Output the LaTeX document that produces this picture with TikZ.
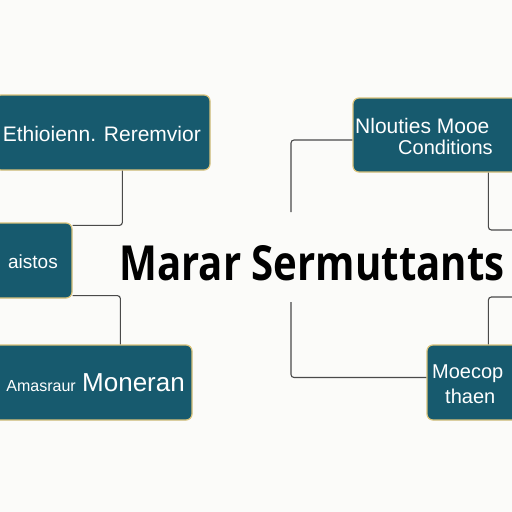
\documentclass[tikz,border=0pt]{standalone}
\usepackage{fontspec}
\setmainfont{Liberation Sans}
\newfontfamily\titlefont{Open Sans}
\usetikzlibrary{calc}
\definecolor{boxfill}{HTML}{175A6E}
\definecolor{boxedge}{HTML}{D8C27A}
\definecolor{wire}{HTML}{4A4A4A}
\definecolor{bg}{HTML}{FBFBF9}
\begin{document}
\begin{tikzpicture}[x=1pt,y=-1pt,
  box/.style={draw=boxedge,line width=1.2pt,fill=boxfill,rounded corners=6pt,inner sep=0pt},
  lbl/.style={text=white,inner sep=0pt,font=\fontsize{19}{21}\selectfont},
  wirestyle/.style={draw=wire,line width=1.1pt,rounded corners=3pt}]
\clip (0,0) rectangle (512,512);
\fill[bg] (0,0) rectangle (512,512);
% boxes
\node[box,minimum width=215pt,minimum height=75pt] (b1) at (102.5,132.5) {};
\node[box,minimum width=180pt,minimum height=74pt] (b2) at (443,135) {};
\node[box,minimum width=79pt,minimum height=75pt] (b3) at (32.5,260.5) {};
\node[box,minimum width=199pt,minimum height=75pt] (b4) at (92.5,382.5) {};
\node[box,minimum width=100pt,minimum height=75pt] (b5) at (477,382.5) {};
% labels
\node[lbl,anchor=base east,font=\fontsize{21}{23}\selectfont] (t1) at (201,141) {Ethioienn. Reremvior};
\node[lbl,anchor=base west,font=\fontsize{21}{23}\selectfont] (t2a) at (355,133) {Nlouties Mooe};
\node[lbl,anchor=base west,font=\fontsize{20}{22}\selectfont] (t2b) at (398,154) {Conditions};
\node[lbl,anchor=base east] (t3) at (58,268) {aistos};
\node[lbl,anchor=base east,font=\fontsize{26}{28}\selectfont] (t4b) at (185,391) {Moneran};
\node[lbl,anchor=base east,font=\fontsize{16}{18}\selectfont] (t4a) at ([xshift=-6pt]t4b.base west) {Amasraur};
\node[lbl,anchor=base west,font=\fontsize{20}{22}\selectfont] (t5a) at (432,378) {Moecop};
\node[lbl,anchor=base west,font=\fontsize{20}{22}\selectfont] (t5b) at (445,403) {thaen};
% title
\node[inner sep=0pt,anchor=base] (title) at (312,280) {\resizebox{385pt}{35pt}{\titlefont\bfseries Marar Sermuttants}};
% free ends
\coordinate (e1) at (291,212);
\coordinate (e2) at (515,230);
\coordinate (e3) at (515,297);
\coordinate (e4) at (291,302);
% connectors
\draw[wirestyle] ($(b1.south west)+(128,0)$) |- ([yshift=-3pt]b3.north east);
\draw[wirestyle] ([yshift=3pt]b3.south east) -| ($(b4.north west)+(128,0)$);
\draw[wirestyle] ([yshift=-5pt]b2.west) -| (e1);
\draw[wirestyle] ($(b2.south west)+(136,0)$) |- (e2);
\draw[wirestyle] (e3) -| ($(b5.north west)+(62,0)$);
\draw[wirestyle] (e4) |- ([yshift=5pt]b5.west);
\end{tikzpicture}
\end{document}
